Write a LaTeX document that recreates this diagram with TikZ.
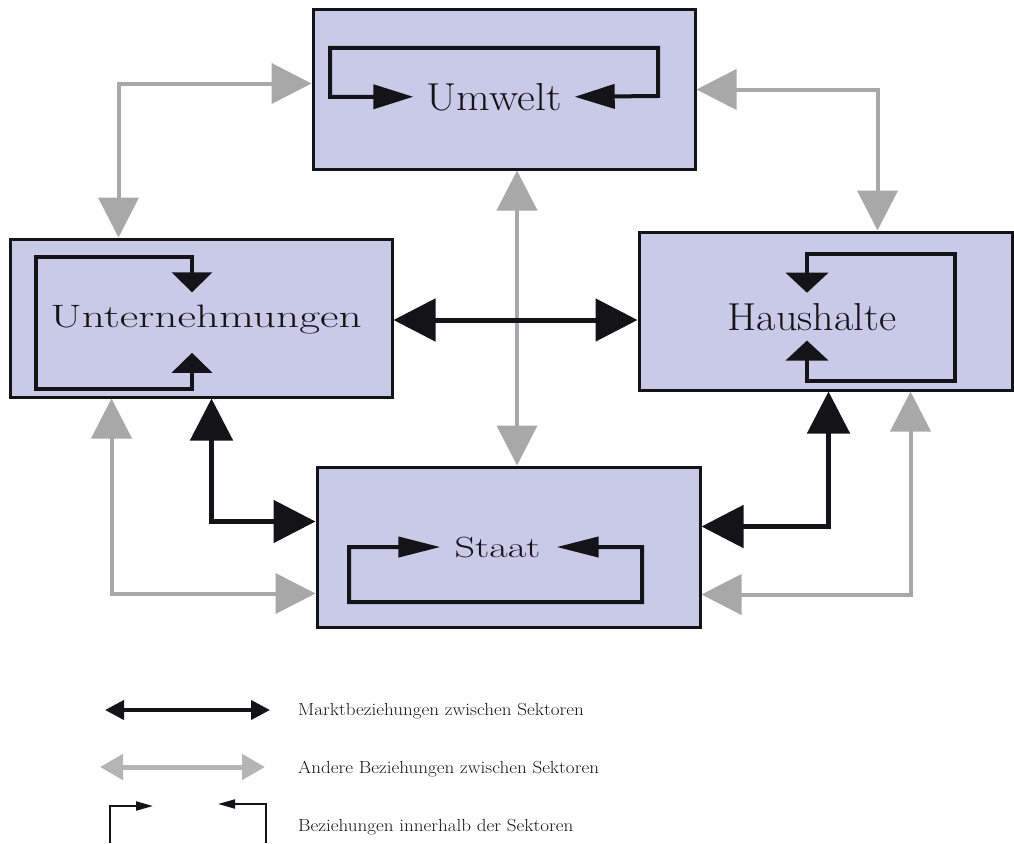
\documentclass[tikz,border=0pt]{standalone}
\usepackage{fontspec}
\usepackage{graphicx}
\usetikzlibrary{arrows.meta}
\definecolor{Ink}{HTML}{141418}
\definecolor{Lavender}{HTML}{C9C9E8}
\definecolor{Soft}{HTML}{A8A8A8}
\newcommand{\fitted}[3]{\scalebox{#1}[#2]{#3}}

\begin{document}
\begin{tikzpicture}[
    x=1pt,y=-1pt,
    sector/.style={draw=Ink,fill=Lavender,line width=3pt,inner sep=0pt},
    sectorname/.style={inner sep=0pt,anchor=base,text=Ink,font=\fontsize{39}{44}\selectfont},
    market/.style={draw=Ink,line width=5pt,<->,>={Triangle[length=42pt,width=42pt]}},
    other/.style={draw=Soft,line width=4pt,<->,>={Triangle[length=40pt,width=40pt]}},
    ownflow/.style 2 args={draw=Ink,line width=4pt,<->,>={Triangle[length=#1,width=#2]}},
    legendtext/.style={inner sep=0pt,anchor=base west,text=Ink,font=\fontsize{17.5}{21}\selectfont}
  ]
  \useasboundingbox (0,0) rectangle (1014,843);

  \node[sector,minimum width=382pt,minimum height=159pt] (umw) at (504,89.5) {};
  \node[sector,minimum width=382pt,minimum height=158pt] (unt) at (201,318) {};
  \node[sector,minimum width=373pt,minimum height=158pt] (hau) at (825.5,311) {};
  \node[sector,minimum width=383pt,minimum height=160pt] (sta) at (508.5,547) {};

  \node[sectorname] (umwname) at (494,110) {\fitted{1.12}{1}{Umwelt}};
  \node[sectorname,font=\fontsize{40.5}{44}\selectfont] (untname) at (206,327) {\fitted{1.12}{0.8}{Unternehmungen}};
  \node[sectorname] (hauname) at (812,330) {\fitted{1.08}{1}{Haushalte}};
  \node[sectorname,font=\fontsize{36.5}{40}\selectfont] (staname) at (497.5,557) {\fitted{1.1}{0.8}{Staat}};

  \draw[ownflow={40pt}{24pt}] ([xshift=-13pt]umwname.west) -| (330,48) -| (658,96) -- ([xshift=13pt]umwname.east);
  \draw[ownflow={20pt}{40pt}] ([xshift=-14pt,yshift=12pt]untname.north) |- (36,257) |- (192,389) -- ([xshift=-14pt,yshift=-19pt]untname.south);
  \draw[ownflow={20pt}{42pt}] ([xshift=-5pt,yshift=10pt]hauname.north) |- (955,254) |- (807,381) -- ([xshift=-5pt,yshift=-10pt]hauname.south);
  \draw[ownflow={42pt}{20pt}] ([xshift=-14pt]staname.west) -| (349,602) -| (642,547) -- ([xshift=16pt]staname.east);

  \draw[other] ([yshift=-75pt]umw.north west) -| ([xshift=110pt]unt.north west);
  \draw[other] ([yshift=-81pt]umw.north east) -| ([xshift=240pt]hau.north west);
  \draw[other] ([xshift=13pt]umw.south) -- ([xshift=13pt]umw.south |- sta.north);
  \draw[market] ([yshift=-2pt]unt.east) -- ([yshift=-2pt]unt.east -| hau.west);
  \draw[market] ([xshift=203pt]unt.south west) |- ([yshift=-56pt]sta.north west);
  \draw[other] ([xshift=103pt]unt.south west) |- ([yshift=-128pt]sta.north west);
  \draw[market] ([xshift=191pt]hau.south west) |- ([yshift=-61pt]sta.north east);
  \draw[other] ([xshift=273pt]hau.south west) |- ([yshift=-129pt]sta.north east);

  \draw[market,line width=4pt,>={Triangle[length=19pt,width=19pt]}] (105,710) -- (270,710);
  \draw[other,line width=5pt,draw=Soft!85,>={Triangle[length=23pt,width=25pt]}] (100,767) -- (265,767);
  \draw[draw=Ink,line width=2pt,->,>={Triangle[length=17pt,width=9pt]}] (110,843) |- (153,806);
  \draw[draw=Ink,line width=2pt,->,>={Triangle[length=17pt,width=9pt]}] (266,843) |- (218,804);

  \node[legendtext] (marktkey) at (298,715) {\fitted{1.09}{1}{Marktbeziehungen zwischen Sektoren}};
  \node[legendtext] (anderekey) at (298,773) {\fitted{1.09}{1}{Andere Beziehungen zwischen Sektoren}};
  \node[legendtext] (innenkey) at (298,831) {\fitted{1.09}{1}{Beziehungen innerhalb der Sektoren}};
\end{tikzpicture}
\end{document}
